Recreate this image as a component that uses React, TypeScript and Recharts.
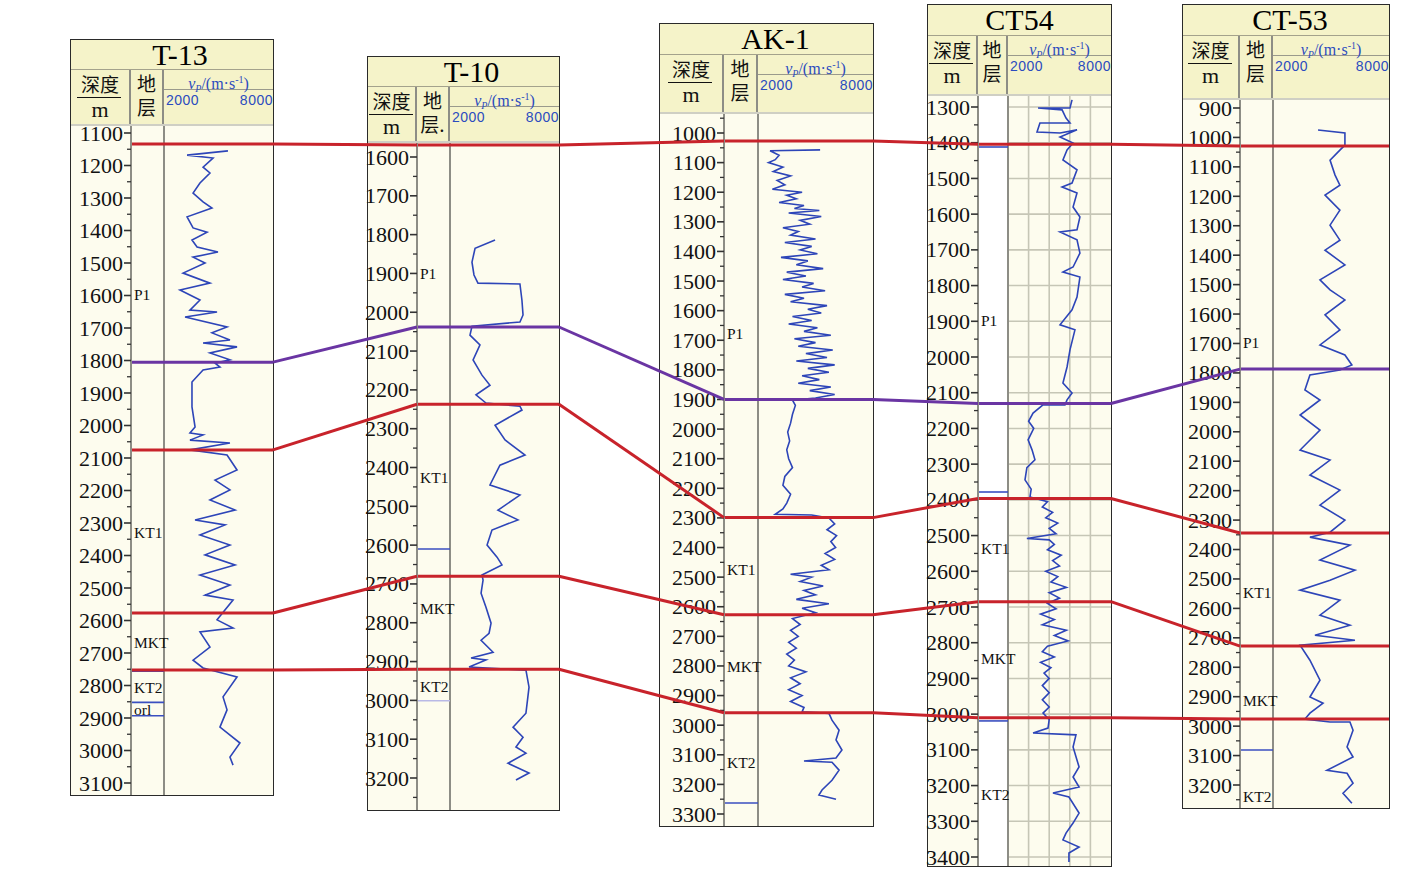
import React from 'react';
import { LineChart, Line, XAxis, YAxis, ReferenceLine } from 'recharts';

// ---------------- data ----------------
const wellNames = ['T-13', 'T-10', 'AK-1', 'CT54', 'CT-53'];
const layerHeader = ['地层', '地层.', '地层', '地层', '地层'];

const V_MIN = 2000;
const V_MAX = 8000;

const t13Depth = [1155,1168,1177,1205,1223,1254,1285,1312,1331,1358,1392,1405,1429,1451,1466,1482,1500,1531,1562,1583,1614,1645,1651,1666,1697,1715,1737,1746,1758,1777,1798,1808,1820,1829,1866,1943,2005,2023,2029,2045,2054,2075,2091,2137,2168,2198,2229,2260,2291,2306,2337,2368,2398,2429,2460,2491,2522,2537,2598,2623,2635,2682,2722,2746,2774,2835,2875,2928,2977,3020,3045];
const t13Vp = [5520,3270,4700,4150,4530,3980,3600,4150,4640,3270,3600,4370,3540,3820,4970,3600,4260,3050,4530,2880,3980,3430,4920,3160,5470,4640,5630,4150,6020,4530,5630,4810,5080,4150,3540,3540,3710,3430,4150,3430,5630,3430,5470,6020,4810,5630,4530,5910,3710,5360,3980,5630,4260,5910,3980,5630,4260,5800,4920,5800,3980,4530,3600,4150,6020,5250,5470,5080,6180,5630,5800];

const t10Depth = [1814,1835,1871,1904,1925,1927,1969,2007,2025,2036,2059,2084,2123,2162,2188,2213,2234,2242,2252,2291,2329,2368,2394,2445,2471,2510,2535,2561,2600,2631,2651,2677,2690,2724,2760,2801,2827,2845,2876,2891,2896,2914,2922,2966,3033,3069,3095,3120,3136,3162,3187,3205];
const t10Vp = [4480,3380,3210,3320,3540,5850,5960,6020,5850,3210,3100,3650,3270,3760,4200,3430,3980,5850,5960,4480,5030,6130,4750,4200,5850,4640,5740,4310,4040,4590,4860,3760,3820,3710,3980,4260,4150,3710,4370,3160,3980,3050,6180,6350,6180,5470,6020,5630,6180,5190,6350,5630];

const ak1Depth = [1057,1060,1075,1090,1100,1115,1130,1145,1160,1175,1190,1200,1210,1222,1235,1245,1255,1262,1270,1282,1295,1308,1320,1333,1345,1358,1370,1383,1395,1408,1420,1432,1445,1458,1470,1483,1495,1508,1520,1533,1545,1558,1570,1583,1595,1608,1620,1633,1645,1658,1670,1683,1695,1708,1720,1733,1745,1758,1770,1783,1795,1808,1820,1833,1845,1858,1870,1883,1895,1902,1920,1950,1980,2010,2040,2070,2100,2130,2160,2190,2220,2250,2270,2288,2290,2300,2320,2340,2360,2380,2400,2420,2440,2460,2475,2490,2500,2515,2530,2545,2560,2575,2590,2605,2620,2640,2660,2680,2700,2720,2740,2760,2780,2800,2820,2840,2860,2880,2900,2920,2940,2955,2960,2983,3017,3050,3084,3111,3121,3125,3152,3186,3219,3236,3250];
const ak1Vp = [5240,2630,3100,2900,2550,3300,2800,3700,3000,3400,2750,4300,3500,4000,3100,4400,3900,5200,3600,5300,4200,4700,3300,4100,3700,5000,3400,4800,4200,5100,3200,4600,4000,5400,3500,4500,3300,4900,4300,5500,3400,4400,3700,5600,4600,5300,3800,4800,3600,5100,4400,5800,3900,5000,4100,5900,4500,5600,4000,6000,4600,5700,4300,5200,4100,5800,4700,6000,5000,3800,3950,3800,3700,3550,3650,3500,3600,3800,3400,3300,3700,3500,3300,2900,4800,5700,6000,5600,6100,5800,6050,5500,6000,5300,5700,3700,4800,4200,5400,4400,5000,4000,5700,4300,5000,3800,4200,3700,4100,3600,4000,3500,3900,3600,4500,3700,4200,3600,4300,3700,4400,4300,5700,5860,6230,6070,6380,6070,4400,5860,6230,5860,5340,5180,6070];

const ct54Depth = [1280,1303,1303,1308,1331,1345,1345,1370,1373,1364,1384,1401,1420,1448,1476,1513,1524,1541,1580,1608,1644,1650,1672,1709,1748,1762,1776,1832,1868,1910,1924,1980,2028,2073,2101,2120,2134,2134,2157,2180,2200,2232,2260,2288,2310,2344,2370,2392,2405,2420,2435,2450,2465,2480,2495,2508,2512,2525,2540,2555,2570,2585,2600,2615,2630,2645,2660,2675,2690,2705,2720,2735,2750,2765,2780,2795,2810,2825,2840,2855,2870,2885,2900,2920,2940,2960,2980,2997,3015,3039,3053,3058,3092,3148,3176,3204,3221,3232,3277,3305,3333,3352,3372,3389,3414];
const ct54Vp = [5730,5610,3750,5150,5380,5610,3860,3690,5030,6020,5030,5790,5440,5200,6020,5730,5150,6020,5790,6190,6020,5030,6020,6190,5790,5200,6190,6020,5730,5030,5900,5610,5440,5200,5730,5440,5320,4040,3460,3200,3500,3170,3400,3570,3100,2990,3350,3280,4300,4000,4600,4200,4900,4400,4800,3100,4400,4700,4300,5100,4600,5000,4200,4900,4500,5400,4400,5000,4300,4800,3900,4700,4000,5400,4700,5500,4300,4000,4700,3900,4500,4100,4400,4000,4400,4000,4400,4040,4400,4330,3460,5960,5790,6140,5790,6140,4620,5550,6140,5790,5380,5200,6140,5550,5550];

const ct53Depth = [975,985,1026,1043,1077,1128,1162,1196,1247,1298,1349,1383,1433,1484,1518,1552,1603,1654,1705,1739,1773,1790,1807,1858,1892,1943,1994,2062,2096,2147,2198,2249,2300,2341,2358,2385,2436,2470,2504,2538,2572,2623,2657,2691,2708,2725,2776,2844,2901,2922,2956,2976,2986,2986,3014,3071,3105,3150,3160,3194,3228,3262];
const ct53Vp = [4330,5720,5720,5460,4950,5210,5460,4690,5460,4950,5460,4690,5720,4430,4950,5720,4690,5460,4430,5720,6080,5460,3910,3650,4430,3400,4430,3400,4950,3910,5460,4430,5720,4950,3910,5980,4430,6240,4950,3400,5460,4430,5980,4170,6240,3400,3910,4430,3910,4590,3910,3650,4950,5980,6140,5830,6140,4790,5830,6140,5620,6080];

// horizons per well (depth, m)
const t13Horizons = [1134, 1805, 2075, 2577, 2752];
const t10Horizons = [1569, 2038, 2237, 2680, 2920];
const ak1Horizons = [1027, 1900, 2299, 2627, 2958];
const ct54Horizons = [1404, 2130, 2396, 2685, 3010];
const ct53Horizons = [1029, 1787, 2344, 2728, 2976];

// strata labels
const t13StrataNames = ['P1', 'KT1', 'MKT', 'KT2', 'orl'];
const t13StrataDepth = [1598, 2328, 2669, 2805, 2875];
const t10StrataNames = ['P1', 'KT1', 'MKT', 'KT2'];
const t10StrataDepth = [1899, 2427, 2762, 2963];
const ak1StrataNames = ['P1', 'KT1', 'MKT', 'KT2'];
const ak1StrataDepth = [1676, 2473, 2801, 3125];
const ct54StrataNames = ['P1', 'KT1', 'MKT', 'KT2'];
const ct54StrataDepth = [1899, 2535, 2843, 3224];
const ct53StrataNames = ['P1', 'KT1', 'MKT', 'KT2'];
const ct53StrataDepth = [1695, 2545, 2912, 3238];

// boundary marks inside strata column
const t13Marks = [2756, 2852, 2893];
const t10Marks = [2610, 3001];
const ak1Marks = [3263];
const ct54Marks = [1412, 2378, 3019];
const ct53Marks = [3081];

// depth tick label range
const t13Ticks = [1100, 3100];
const t10Ticks = [1600, 3200];
const ak1Ticks = [1000, 3300];
const ct54Ticks = [1300, 3400];
const ct53Ticks = [900, 3200];

// ---------------- styles / layout ----------------
const HORIZON_COLORS = ['#c8232b', '#6a35a3', '#c8232b', '#c8232b', '#c8232b'];
const CURVE_COLOR = '#2d45b8';
const MARK_COLORS = [['#3a4fc0', '#3a4fc0', '#3a4fc0'], ['#3a4fc0', '#b9b9e6'], ['#3a4fc0'], ['#3a4fc0', '#3a4fc0', '#3a4fc0'], ['#3a4fc0']];
const HEAD_BG = '#f5f3c9';
const BODY_BG = '#fdfcee';
const COL_LINE = '#8d8d85';
const SERIF = "'Liberation Serif', 'Times New Roman', 'Noto Sans CJK SC', serif";
const CJK = "'Noto Sans CJK SC', 'Liberation Serif', serif";
const PAGE_W = 1417;
const PAGE_H = 872;

type Layout = {
  left: number; top: number; width: number; bottom: number;
  titleH: number; headerH: number; depthW: number; strataW: number;
  d0: number; y0: number; d1: number; y1: number;
  titleDx: number; whiteStrata?: boolean; grid?: boolean;
};

const layouts: Layout[] = [
  { left: 71, top: 40, width: 202, bottom: 795, titleH: 30, headerH: 56, depthW: 60, strataW: 33, d0: 1100, y0: 133, d1: 3100, y1: 783, titleDx: 8 },
  { left: 368, top: 57, width: 191, bottom: 810, titleH: 30, headerH: 56, depthW: 49, strataW: 33, d0: 1600, y0: 157, d1: 3200, y1: 778, titleDx: 8 },
  { left: 660, top: 24, width: 213, bottom: 826, titleH: 31, headerH: 59, depthW: 64, strataW: 34, d0: 1000, y0: 133, d1: 3300, y1: 814, titleDx: 9 },
  { left: 928, top: 5, width: 183, bottom: 866, titleH: 31, headerH: 60, depthW: 50, strataW: 30, d0: 1300, y0: 107, d1: 3400, y1: 857, titleDx: 0, whiteStrata: true, grid: true },
  { left: 1183, top: 5, width: 206, bottom: 808, titleH: 31, headerH: 64, depthW: 57, strataW: 33, d0: 900, y0: 108, d1: 3200, y1: 785, titleDx: 4 },
];

const zip = (d: number[], v: number[]) => d.map((dd, i) => ({ d: dd, v: v[i] }));

const wells = [
  { curve: zip(t13Depth, t13Vp), horizons: t13Horizons, strataNames: t13StrataNames, strataDepth: t13StrataDepth, marks: t13Marks, ticks: t13Ticks },
  { curve: zip(t10Depth, t10Vp), horizons: t10Horizons, strataNames: t10StrataNames, strataDepth: t10StrataDepth, marks: t10Marks, ticks: t10Ticks },
  { curve: zip(ak1Depth, ak1Vp), horizons: ak1Horizons, strataNames: ak1StrataNames, strataDepth: ak1StrataDepth, marks: ak1Marks, ticks: ak1Ticks },
  { curve: zip(ct54Depth, ct54Vp), horizons: ct54Horizons, strataNames: ct54StrataNames, strataDepth: ct54StrataDepth, marks: ct54Marks, ticks: ct54Ticks },
  { curve: zip(ct53Depth, ct53Vp), horizons: ct53Horizons, strataNames: ct53StrataNames, strataDepth: ct53StrataDepth, marks: ct53Marks, ticks: ct53Ticks },
];

const depthAtY = (L: Layout, y: number) => L.d0 + ((y - L.y0) * (L.d1 - L.d0)) / (L.y1 - L.y0);
const yAtDepth = (L: Layout, d: number) => L.y0 + ((d - L.d0) * (L.y1 - L.y0)) / (L.d1 - L.d0);

const DepthTick = (props: any) => {
  const { x, y, payload, labelMin, labelMax } = props;
  const val = payload.value;
  const major = val % 100 === 0 && val >= labelMin && val <= labelMax;
  return (
    <g>
      <line x1={x - (major ? 7 : 4)} x2={x} y1={y} y2={y} stroke="#333" strokeWidth={major ? 1.6 : 1.3} />
      {major && (
        <text x={x - 8} y={y} textAnchor="end" dominantBaseline="central" fontSize={22} fontFamily={SERIF} fill="#111">
          {val}
        </text>
      )}
    </g>
  );
};

function Header({ L, name, layer }: { L: Layout; name: string; layer: string }) {
  const curveW = L.width - L.depthW - L.strataW;
  return (
    <>
      <div
        style={{
          position: 'absolute', left: 0, top: 0, width: L.width, height: L.titleH, background: HEAD_BG,
          borderBottom: '1px solid #a4a28c', boxSizing: 'border-box', display: 'flex', alignItems: 'center',
          justifyContent: 'center', fontFamily: SERIF, fontSize: 30, lineHeight: 1, color: '#000', paddingLeft: L.titleDx * 2,
        }}
      >
        {name}
      </div>
      <div
        style={{
          position: 'absolute', left: 0, top: L.titleH, width: L.width, height: L.headerH, background: HEAD_BG,
          borderBottom: '2px solid #cfcfc4', boxSizing: 'border-box',
        }}
      >
        <div style={{ position: 'absolute', left: 0, top: 0, width: L.depthW, height: '100%', borderRight: `2px solid ${COL_LINE}`, boxSizing: 'border-box' }}>
          <div style={{ position: 'absolute', top: 4, width: '100%', textAlign: 'center', fontFamily: CJK, fontSize: 19, lineHeight: '20px', color: '#111' }}>深度</div>
          <div style={{ position: 'absolute', top: 27, left: '50%', width: 44, marginLeft: -23, borderTop: '1.5px solid #111' }} />
          <div style={{ position: 'absolute', top: 30, width: '100%', textAlign: 'center', fontFamily: SERIF, fontSize: 22, lineHeight: '20px', color: '#111' }}>m</div>
        </div>
        <div style={{ position: 'absolute', left: L.depthW, top: 0, width: L.strataW, height: '100%', borderRight: `2px solid ${COL_LINE}`, boxSizing: 'border-box' }}>
          <div style={{ position: 'absolute', top: 3, width: '100%', textAlign: 'center', fontFamily: CJK, fontSize: 19, lineHeight: '20px', color: '#111' }}>{layer.slice(0, 1)}</div>
          <div style={{ position: 'absolute', top: 27, width: '100%', textAlign: 'center', fontFamily: CJK, fontSize: 19, lineHeight: '20px', color: '#111', whiteSpace: 'nowrap' }}>{layer.slice(1)}</div>
        </div>
        <div style={{ position: 'absolute', left: L.depthW + L.strataW, top: 0, width: curveW, height: '100%' }}>
          <div style={{ position: 'absolute', top: 0, left: 0, width: '100%', height: 20, borderBottom: '1px solid #9a9a8c', boxSizing: 'border-box', textAlign: 'center', fontFamily: SERIF, fontSize: 16, lineHeight: '19px', color: '#2b4bbf', whiteSpace: 'nowrap' }}>
            <span style={{ fontStyle: 'italic' }}>v</span>
            <span style={{ fontSize: 10, fontStyle: 'italic', verticalAlign: '-3px' }}>P</span>/(m·s<span style={{ fontSize: 10, verticalAlign: '6px' }}>-1</span>)
          </div>
          <div style={{ position: 'absolute', top: 22, left: 2, fontFamily: "'Liberation Sans', Arial, sans-serif", fontSize: 14, lineHeight: '16px', color: '#2b4bbf', letterSpacing: 0.5 }}>2000</div>
          <div style={{ position: 'absolute', top: 22, right: 0, fontFamily: "'Liberation Sans', Arial, sans-serif", fontSize: 14, lineHeight: '16px', color: '#2b4bbf', letterSpacing: 0.5 }}>8000</div>
        </div>
      </div>
    </>
  );
}

function WellPanel({ i }: { i: number }) {
  const L = layouts[i];
  const W = wells[i];
  const headTotal = L.titleH + L.headerH;
  const plotTop = L.top + headTotal;
  const chartH = L.bottom - plotTop;
  const curveW = L.width - L.depthW - L.strataW;
  const vMin = V_MIN - ((V_MAX - V_MIN) * L.strataW) / curveW;
  const dTop = depthAtY(L, plotTop);
  const dBot = depthAtY(L, L.bottom);
  const ticks: number[] = [];
  for (let d = Math.ceil(dTop / 50) * 50; d <= dBot; d += 50) ticks.push(d);
  const gridDepths = ticks.filter((d) => d % 100 === 0);
  const gridV = [3200, 4400, 5600, 6800];

  return (
    <div
      style={{
        position: 'absolute', left: L.left, top: L.top, width: L.width, height: L.bottom - L.top,
        background: BODY_BG, outline: '1px solid #2a2a2a',
      }}
    >
      <Header L={L} name={wellNames[i]} layer={layerHeader[i]} />
      {L.whiteStrata && (
        <div style={{ position: 'absolute', left: L.depthW, top: headTotal, width: L.strataW, height: chartH, background: '#ffffff' }} />
      )}
      <div style={{ position: 'absolute', left: 0, top: headTotal }}>
        <LineChart width={L.width} height={chartH} margin={{ top: 0, right: 0, bottom: 0, left: 0 }}>
          <XAxis type="number" dataKey="v" domain={[vMin, V_MAX]} hide allowDataOverflow />
          <YAxis
            type="number"
            domain={[dTop, dBot]}
            reversed
            allowDataOverflow
            width={L.depthW}
            ticks={ticks}
            interval={0}
            tickSize={0}
            tickMargin={0}
            tickLine={false}
            tick={(p: any) => <DepthTick {...p} labelMin={W.ticks[0]} labelMax={W.ticks[1]} />}
            axisLine={{ stroke: COL_LINE, strokeWidth: 2 }}
          />
          {L.grid &&
            gridV.map((v) => (
              <ReferenceLine key={`gv${v}`} x={v} stroke="#c6c6b6" strokeWidth={1.6} ifOverflow="visible" />
            ))}
          {L.grid &&
            gridDepths.map((d) => (
              <ReferenceLine
                key={`gd${d}`}
                segment={[{ x: V_MIN, y: d }, { x: V_MAX, y: d }]}
                stroke="#c6c6b6"
                strokeWidth={1.6}
                ifOverflow="visible"
              />
            ))}
          <ReferenceLine x={V_MIN} stroke={COL_LINE} strokeWidth={2} ifOverflow="visible" />
          {W.marks.map((d, k) => (
            <ReferenceLine
              key={`m${k}`}
              segment={[{ x: vMin, y: d }, { x: V_MIN, y: d }]}
              stroke={MARK_COLORS[i][k]}
              strokeWidth={1.6}
              ifOverflow="visible"
            />
          ))}
          {W.strataNames.map((n, k) => (
            <ReferenceLine
              key={`s${k}`}
              y={W.strataDepth[k]}
              stroke="none"
              ifOverflow="visible"
              label={{ value: n, position: 'insideLeft', offset: 3, fill: '#111', fontSize: 15.5, fontFamily: SERIF }}
            />
          ))}
          <Line
            data={W.curve}
            dataKey="d"
            stroke={CURVE_COLOR}
            strokeWidth={1.6}
            dot={false}
            isAnimationActive={false}
          />
          {W.horizons.map((d, k) => (
            <ReferenceLine key={`h${k}`} y={d} stroke={HORIZON_COLORS[k]} strokeWidth={3} ifOverflow="visible" />
          ))}
        </LineChart>
      </div>
    </div>
  );
}

function Connectors() {
  const segs: { key: string; color: string; data: { x: number; y: number }[] }[] = [];
  for (let i = 0; i < layouts.length - 1; i++) {
    const A = layouts[i];
    const B = layouts[i + 1];
    HORIZON_COLORS.forEach((c, h) => {
      segs.push({
        key: `c${i}-${h}`,
        color: c,
        data: [
          { x: A.left + A.width, y: yAtDepth(A, wells[i].horizons[h]) },
          { x: B.left + B.depthW, y: yAtDepth(B, wells[i + 1].horizons[h]) },
        ],
      });
    });
  }
  return (
    <div style={{ position: 'absolute', left: 0, top: 0, pointerEvents: 'none' }}>
      <LineChart width={PAGE_W} height={PAGE_H} margin={{ top: 0, right: 0, bottom: 0, left: 0 }}>
        <XAxis type="number" dataKey="x" domain={[0, PAGE_W]} hide allowDataOverflow />
        <YAxis type="number" domain={[0, PAGE_H]} reversed hide allowDataOverflow />
        {segs.map((s) => (
          <Line key={s.key} data={s.data} dataKey="y" stroke={s.color} strokeWidth={3} dot={false} isAnimationActive={false} />
        ))}
      </LineChart>
    </div>
  );
}

export default function App() {
  return (
    <div style={{ position: 'absolute', left: 0, top: 0, width: PAGE_W, height: PAGE_H, background: '#ffffff', overflow: 'hidden' }}>
      <style>{`.recharts-surface{overflow:visible}`}</style>
      {layouts.map((_, i) => (
        <WellPanel key={i} i={i} />
      ))}
      <Connectors />
    </div>
  );
}
